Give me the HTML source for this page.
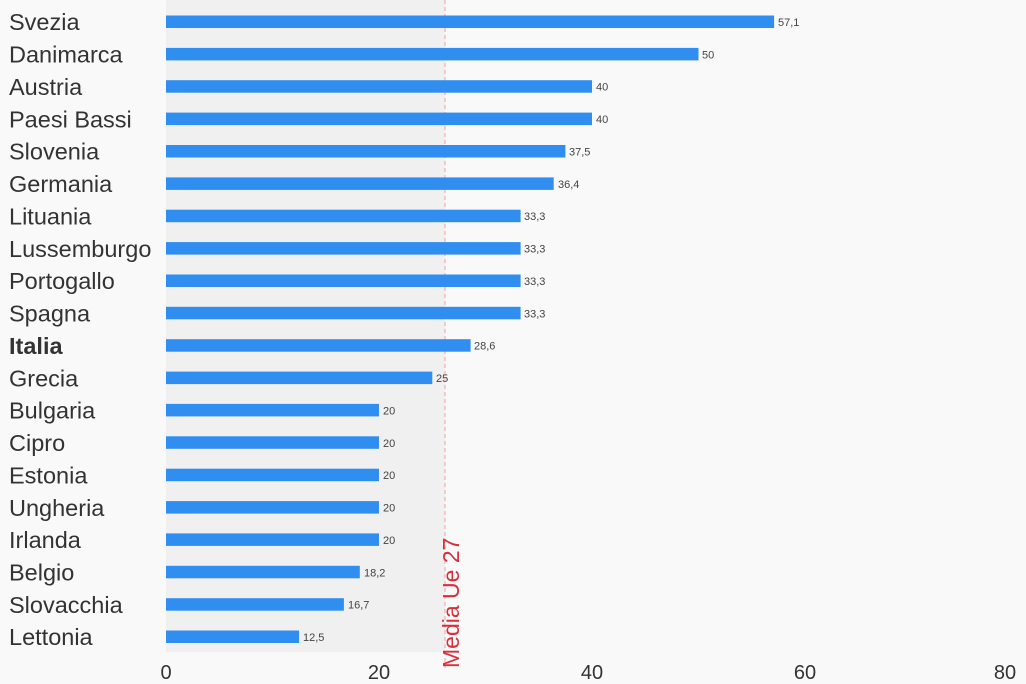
<!DOCTYPE html>
<html><head><meta charset="utf-8"><style>body{margin:0;background:#f9f9f9}svg{display:block}</style></head><body>
<svg width="1026" height="684" xmlns="http://www.w3.org/2000/svg" font-family="Liberation Sans, sans-serif">
<rect width="1026" height="684" fill="#f9f9f9"/>
<rect x="166" y="0" width="279" height="652" fill="#f0f0f0"/>
<line x1="445" y1="0" x2="445" y2="668" stroke="#f4a0a8" stroke-width="1" stroke-dasharray="4,3"/>
<g font-size="23.5" fill="#333">
<text x="9" y="30.2">Svezia</text>
<text x="9" y="62.6">Danimarca</text>
<text x="9" y="94.9">Austria</text>
<text x="9" y="127.3">Paesi Bassi</text>
<text x="9" y="159.7">Slovenia</text>
<text x="9" y="192.1">Germania</text>
<text x="9" y="224.4">Lituania</text>
<text x="9" y="256.8">Lussemburgo</text>
<text x="9" y="289.2">Portogallo</text>
<text x="9" y="321.5">Spagna</text>
<text x="9" y="353.9" font-weight="bold">Italia</text>
<text x="9" y="386.3">Grecia</text>
<text x="9" y="418.6">Bulgaria</text>
<text x="9" y="451">Cipro</text>
<text x="9" y="483.4">Estonia</text>
<text x="9" y="515.8">Ungheria</text>
<text x="9" y="548.1">Irlanda</text>
<text x="9" y="580.5">Belgio</text>
<text x="9" y="612.9">Slovacchia</text>
<text x="9" y="645.2">Lettonia</text>
</g>
<g fill="#308ef0">
<rect x="166" y="15.5" width="608.1" height="12.5"/>
<rect x="166" y="47.9" width="532.5" height="12.5"/>
<rect x="166" y="80.2" width="426" height="12.5"/>
<rect x="166" y="112.6" width="426" height="12.5"/>
<rect x="166" y="145" width="399.4" height="12.5"/>
<rect x="166" y="177.4" width="387.7" height="12.5"/>
<rect x="166" y="209.7" width="354.6" height="12.5"/>
<rect x="166" y="242.1" width="354.6" height="12.5"/>
<rect x="166" y="274.5" width="354.6" height="12.5"/>
<rect x="166" y="306.8" width="354.6" height="12.5"/>
<rect x="166" y="339.2" width="304.6" height="12.5"/>
<rect x="166" y="371.6" width="266.3" height="12.5"/>
<rect x="166" y="403.9" width="213" height="12.5"/>
<rect x="166" y="436.3" width="213" height="12.5"/>
<rect x="166" y="468.7" width="213" height="12.5"/>
<rect x="166" y="501.1" width="213" height="12.5"/>
<rect x="166" y="533.4" width="213" height="12.5"/>
<rect x="166" y="565.8" width="193.8" height="12.5"/>
<rect x="166" y="598.2" width="177.9" height="12.5"/>
<rect x="166" y="630.5" width="133.1" height="12.5"/>
</g>
<g font-size="11" fill="#444">
<text x="778" y="26">57,1</text>
<text x="702" y="58.4">50</text>
<text x="596" y="90.7">40</text>
<text x="596" y="123.1">40</text>
<text x="569" y="155.5">37,5</text>
<text x="558" y="187.9">36,4</text>
<text x="524" y="220.2">33,3</text>
<text x="524" y="252.6">33,3</text>
<text x="524" y="285">33,3</text>
<text x="524" y="317.3">33,3</text>
<text x="474" y="349.7">28,6</text>
<text x="436" y="382.1">25</text>
<text x="383" y="414.4">20</text>
<text x="383" y="446.8">20</text>
<text x="383" y="479.2">20</text>
<text x="383" y="511.6">20</text>
<text x="383" y="543.9">20</text>
<text x="364" y="576.3">18,2</text>
<text x="348" y="608.7">16,7</text>
<text x="303" y="641">12,5</text>
</g>
<g font-size="20" fill="#333" text-anchor="middle">
<text x="166" y="679">0</text><text x="379" y="679">20</text><text x="592" y="679">40</text><text x="805" y="679">60</text><text x="1005" y="679">80</text>
</g>
<text transform="translate(459,668) rotate(-90)" font-size="23" fill="#d8303a">Media Ue 27</text>
</svg>
</body></html>
